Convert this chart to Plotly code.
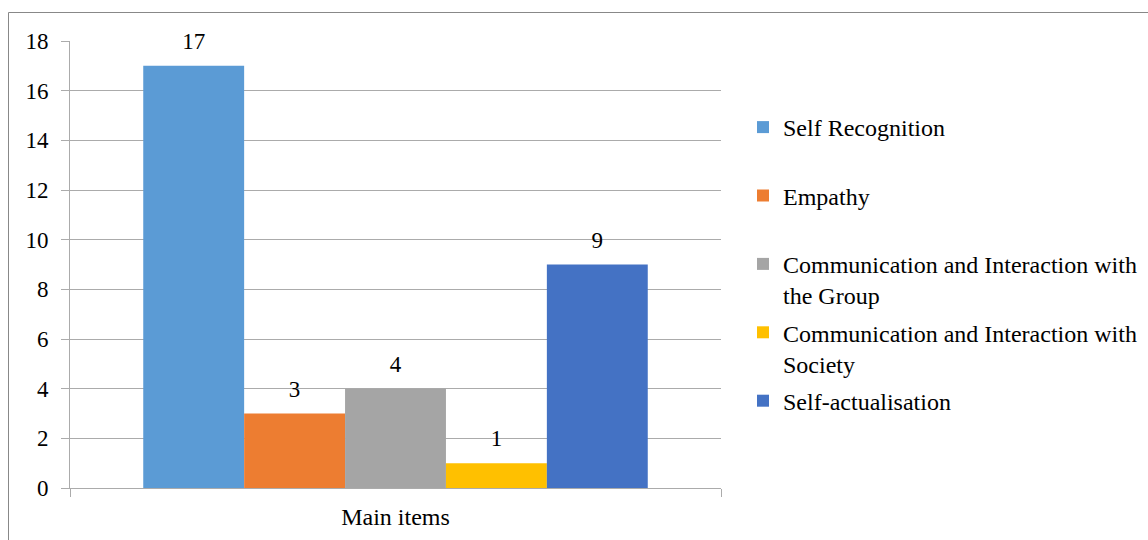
import plotly.graph_objects as go

categories = ["Main items"]
series_names = [
    "Self Recognition",
    "Empathy",
    "Communication and Interaction with<br>the Group",
    "Communication and Interaction with<br>Society",
    "Self-actualisation",
]
series_values = [17, 3, 4, 1, 9]
series_colors = ["#5B9BD5", "#ED7D31", "#A5A5A5", "#FFC000", "#4472C4"]
y_ticks = [0, 2, 4, 6, 8, 10, 12, 14, 16, 18]

FONT = "Liberation Serif"
GRID = "#ABABAB"
GAP = 0.225

fig = go.Figure()
for i, (name, val, col) in enumerate(zip(series_names, series_values, series_colors)):
    label = name if "<br>" in name else name + "<br> "
    fig.add_trace(go.Bar(
        x=categories, y=[val], name=label, marker=dict(color=col, line=dict(width=0)),
        legendgroup=f"g{i}", offsetgroup=f"o{i}",
    ))
for i, val in enumerate(series_values):
    fig.add_trace(go.Scatter(
        x=categories, y=[val], mode="markers+text", text=[str(val)],
        textposition="top center", textfont=dict(family=FONT, size=23, color="#000"),
        marker=dict(size=16, opacity=0), showlegend=False, hoverinfo="skip",
        offsetgroup=f"o{i}", cliponaxis=False,
    ))

W, H = 1148, 540
L, R, T, B = 70, 427, 41, 52
fig.update_layout(
    width=W, height=H,
    margin=dict(l=L, r=R, t=T, b=B, autoexpand=False),
    paper_bgcolor="white", plot_bgcolor="white",
    barmode="group", bargap=GAP, bargroupgap=0,
    scattermode="group", scattergap=GAP,
    font=dict(family=FONT, size=24, color="#000"),
    showlegend=True,
    legend=dict(
        x=(743 - L) / (W - L - R), xanchor="left",
        y=(488 - 105) / (H - T - B), yanchor="top",
        font=dict(family=FONT, size=24, color="#000"),
        tracegroupgap=3, valign="top", itemwidth=30,
        bgcolor="rgba(0,0,0,0)",
    ),
    xaxis=dict(
        showgrid=False, showline=True, linecolor=GRID, linewidth=1,
        ticks="outside", tickson="boundaries", ticklen=8, tickcolor=GRID,
        tickfont=dict(family=FONT, size=24, color="#000"),
        ticklabelstandoff=7, automargin=False,
    ),
    yaxis=dict(
        range=[0, 18], tickvals=y_ticks, showgrid=True, gridcolor=GRID, gridwidth=1,
        showline=True, linecolor=GRID, linewidth=1, ticks="outside", ticklen=8,
        tickcolor=GRID, tickfont=dict(family=FONT, size=23, color="#000"),
        zeroline=False, ticklabelstandoff=8, automargin=False,
    ),
    shapes=[
        dict(type="line", xref="paper", yref="paper",
             x0=(8.5 - L) / (W - L - R), x1=(8.5 - L) / (W - L - R),
             y0=(488 - 12.5) / (H - T - B), y1=-0.2,
             line=dict(color="#888888", width=1)),
        dict(type="line", xref="paper", yref="paper",
             x0=(8.5 - L) / (W - L - R), x1=2,
             y0=(488 - 12.5) / (H - T - B), y1=(488 - 12.5) / (H - T - B),
             line=dict(color="#888888", width=1)),
    ],
)

fig.write_html("out.html")
